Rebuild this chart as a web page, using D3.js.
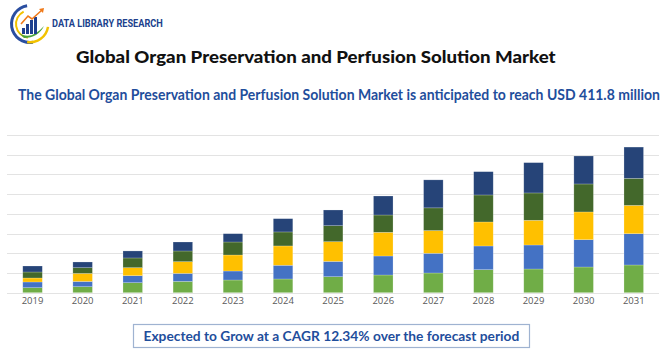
<!DOCTYPE html>
<html>
<head>
<meta charset="utf-8">
<script src="https://cdn.jsdelivr.net/npm/d3@7/dist/d3.min.js"></script>
<style>
  html, body { margin: 0; padding: 0; background: #fff; }
  svg { display: block; }
</style>
</head>
<body>
<svg id="chart" width="670" height="350"></svg>
<script>
// ---- data ----
const years = ["2019","2020","2021","2022","2023","2024","2025","2026","2027","2028","2029","2030","2031"];
const seriesNames = ["s1","s2","s3","s4","s5"];
const s1 = [12.7, 15.2, 25.4, 28.7, 32.2, 34.8, 40.6, 44.9, 50.0, 58.4, 60.1, 65.2, 70.3];
const s2 = [14.5, 13.4, 17.8, 20.3, 22.8, 34.8, 38.8, 48.2, 50.0, 60.1, 60.9, 69.3, 79.4];
const s3 = [10.1, 20.3, 20.3, 29.7, 40.6, 49.0, 50.0, 60.1, 57.6, 60.9, 62.7, 70.3, 71.8];
const s4 = [15.2, 14.5, 24.6, 27.1, 33.0, 35.5, 40.6, 43.9, 57.6, 68.5, 69.3, 71.0, 68.5];
const s5 = [15.2, 14.5, 17.8, 22.8, 21.1, 33.7, 39.8, 48.2, 71.0, 59.1, 76.9, 71.0, 79.4];
const gridValues = [0, 50, 100, 150, 200, 250, 300, 350, 400];
const colors = ["#70ad47", "#4472c4", "#ffc000", "#43682b", "#264478"];

const title = "Global Organ Preservation and Perfusion Solution Market";
const subtitle = "The Global Organ Preservation and Perfusion Solution Market is anticipated to reach USD 411.8 million";
const footer = "Expected to Grow at a CAGR 12.34% over the forecast period";
const brand = "DATA LIBRARY RESEARCH";

// ---- build ----
const svg = d3.select("#chart");
const table = years.map((y, i) => ({year: y, s1: s1[i], s2: s2[i], s3: s3[i], s4: s4[i], s5: s5[i]}));
const stacked = d3.stack().keys(seriesNames)(table);

const x = d3.scaleBand().domain(years).range([7.5, 658.8]).paddingInner(0.61).paddingOuter(0.305);
const y = d3.scaleLinear().domain([0, 400]).range([292.7, 135]);

// gridlines
svg.append("g").selectAll("line").data(gridValues).join("line")
  .attr("x1", 7).attr("x2", 659)
  .attr("y1", d => Math.round(y(d)) + 0.5).attr("y2", d => Math.round(y(d)) + 0.5)
  .attr("stroke", "#e3e3e3").attr("stroke-width", 1.2);

// bars
svg.append("g").selectAll("g").data(stacked).join("g")
  .attr("fill", (d, i) => colors[i])
  .selectAll("rect").data(d => d).join("rect")
  .attr("x", d => x(d.data.year))
  .attr("width", x.bandwidth())
  .attr("y", d => y(d[1]))
  .attr("height", d => y(d[0]) - y(d[1]))
  .attr("stroke", "rgba(255,255,255,0.35)").attr("stroke-width", 0.6);

// x axis labels
const xAxis = d3.axisBottom(x).tickSize(0).tickPadding(0);
const gx = svg.append("g").attr("transform", "translate(0,297)").call(xAxis);
gx.select(".domain").remove();
gx.selectAll("text").attr("font-family", "Open Sans, sans-serif").attr("font-size", 9.5)
  .attr("fill", "#595959").attr("dy", "0.75em");

// helper: text squeezed horizontally to a target width
function fitText(parent, str, left, baseline, width, attrs) {
  const g = parent.append("g");
  const t = g.append("text").attr("x", 0).attr("y", 0).text(str);
  Object.entries(attrs).forEach(([k, v]) => t.attr(k, v));
  const w = t.node().getComputedTextLength();
  g.attr("transform", `translate(${left},${baseline}) scale(${width / w},1)`);
  return t;
}

// title
fitText(svg, title, 76, 63, 480, {
  "font-family": "Lato, sans-serif", "font-weight": "900", "font-size": 17.5, "fill": "#111"});

// subtitle
fitText(svg, subtitle, 18, 100, 642, {
  "font-family": "Lato, sans-serif", "font-weight": "bold", "font-size": 14.5, "fill": "#1f4e9c"});

// footer box
svg.append("rect").attr("x", 133.5).attr("y", 324.5).attr("width", 396).attr("height", 23)
  .attr("fill", "#fff").attr("stroke", "#9fb3d1").attr("stroke-width", 1.2);
fitText(svg, footer, 143.5, 341, 376, {
  "font-family": "Lato, sans-serif", "font-weight": "bold", "font-size": 14, "fill": "#1f4e9c"});

// logo
const logo = svg.append("g");
logo.append("path").attr("d", d3.arc()({innerRadius: 17, outerRadius: 20, startAngle: Math.PI * 0.95, endAngle: Math.PI * 1.95}))
  .attr("transform", "translate(30,24)").attr("fill", "#2a4ea0");
logo.append("path").attr("d", d3.arc()({innerRadius: 17, outerRadius: 19.5, startAngle: Math.PI * 0.55, endAngle: Math.PI * 1.05}))
  .attr("transform", "translate(30,24)").attr("fill", "#f2c200");
logo.append("path").attr("d", d3.arc()({innerRadius: 13, outerRadius: 15, startAngle: Math.PI * 1.05, endAngle: Math.PI * 1.85}))
  .attr("transform", "translate(30,24)").attr("fill", "#f2c200");
logo.append("path").attr("d", "M18,32 Q30,42 44,26 Q38,38 24,38 Z").attr("fill", "#4aa33a");
[[22, 28, 6], [26, 24, 10], [30, 20, 14], [34, 17, 17]].forEach(b => {
  logo.append("rect").attr("x", b[0]).attr("y", b[1]).attr("width", 3).attr("height", b[2]).attr("fill", "#1f3f8f");
});
logo.append("path").attr("d", "M21,24 L28,16 L32,19 L42,10").attr("fill", "none").attr("stroke", "#f07a1a").attr("stroke-width", 1.6);
logo.append("path").attr("d", "M39,9 L44,8 L43,13 Z").attr("fill", "#f07a1a");
fitText(logo, brand, 52, 26.5, 111, {
  "font-family": "Roboto, sans-serif", "font-weight": "bold", "font-size": 10.5, "fill": "#203f8c"});
</script>
</body>
</html>
